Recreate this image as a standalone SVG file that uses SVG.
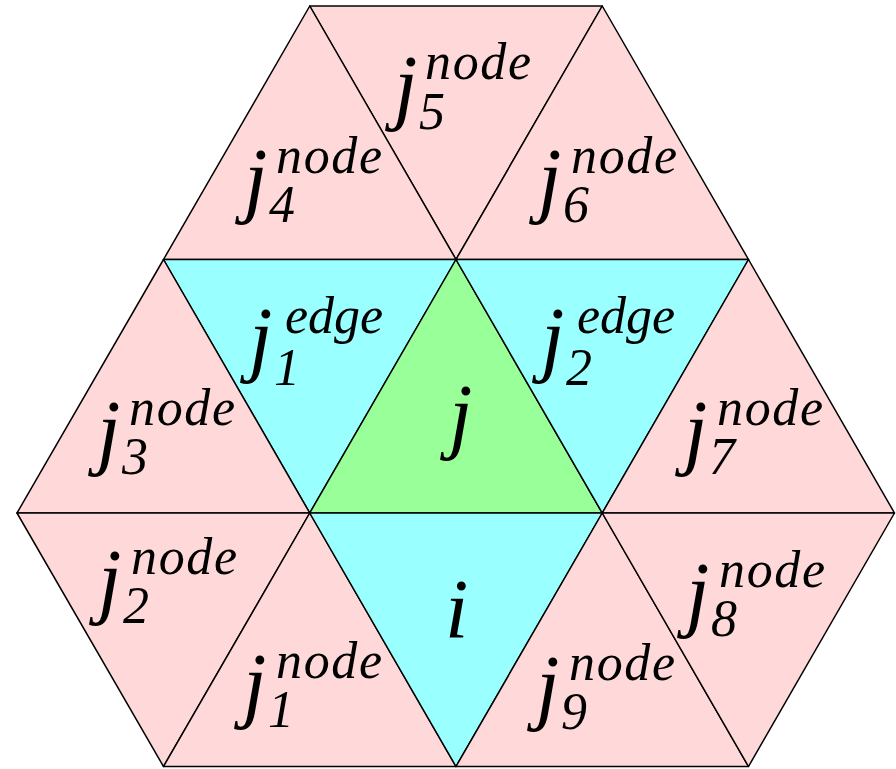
<svg xmlns="http://www.w3.org/2000/svg" width="896" height="769" viewBox="0 0 896 769">
<style>
.p{fill:#ffd9d9;stroke:#000;stroke-width:1.5;stroke-linejoin:round}
.c{fill:#99ffff;stroke:#000;stroke-width:1.5;stroke-linejoin:round}
.g{fill:#99ff99;stroke:#000;stroke-width:1.5;stroke-linejoin:round}
.m{font-family:"Liberation Serif",serif;font-style:italic;font-size:84px;fill:#000}
.s{font-family:"Liberation Serif",serif;font-style:italic;font-size:52px;fill:#000}
</style>
<rect width="896" height="769" fill="#fff"/>
<g id="t5"><polygon class="p" points="309.75,6 602.25,6 456,259.5"/>
<text class="m" x="394" y="114">j</text><text class="s" x="425" y="79" textLength="106" lengthAdjust="spacing">node</text><text class="s" x="419" y="129">5</text></g>
<g id="t4"><polygon class="p" points="309.75,6 163.5,259.5 456,259.5"/>
<text class="m" x="244" y="207">j</text><text class="s" x="276" y="173" textLength="106" lengthAdjust="spacing">node</text><text class="s" x="269" y="222">4</text></g>
<g id="t6"><polygon class="p" points="602.25,6 456,259.5 748.5,259.5"/>
<text class="m" x="538" y="207">j</text><text class="s" x="571" y="173" textLength="106" lengthAdjust="spacing">node</text><text class="s" x="563" y="222">6</text></g>
<g id="t1e"><polygon class="c" points="163.5,259.5 456,259.5 309.75,513"/>
<text class="m" x="249" y="366">j</text><text class="s" x="285" y="333" textLength="98" lengthAdjust="spacing">edge</text><text class="s" x="274" y="385">1</text></g>
<g id="tj"><polygon class="g" points="456,259.5 309.75,513 602.25,513"/>
<text class="m" x="449" y="443">j</text></g>
<g id="t2e"><polygon class="c" points="456,259.5 748.5,259.5 602.25,513"/>
<text class="m" x="541" y="366">j</text><text class="s" x="577" y="333" textLength="98" lengthAdjust="spacing">edge</text><text class="s" x="566" y="385">2</text></g>
<g id="t3"><polygon class="p" points="163.5,259.5 17,513 309.75,513"/>
<text class="m" x="97" y="459">j</text><text class="s" x="129" y="425" textLength="106" lengthAdjust="spacing">node</text><text class="s" x="122" y="474">3</text></g>
<g id="t7"><polygon class="p" points="748.5,259.5 602.25,513 894.5,513"/>
<text class="m" x="684" y="459">j</text><text class="s" x="717" y="425" textLength="106" lengthAdjust="spacing">node</text><text class="s" x="709" y="474">7</text></g>
<g id="t2n"><polygon class="p" points="17,513 309.75,513 163.5,766.5"/>
<text class="m" x="98" y="608">j</text><text class="s" x="131" y="574" textLength="106" lengthAdjust="spacing">node</text><text class="s" x="123" y="623">2</text></g>
<g id="t1n"><polygon class="p" points="309.75,513 163.5,766.5 456,766.5"/>
<text class="m" x="243" y="712">j</text><text class="s" x="276" y="678" textLength="106" lengthAdjust="spacing">node</text><text class="s" x="268" y="727">1</text></g>
<g id="ti"><polygon class="c" points="309.75,513 602.25,513 456,766.5"/>
<text class="m" x="445" y="638">i</text></g>
<g id="t9"><polygon class="p" points="602.25,513 456,766.5 748.5,766.5"/>
<text class="m" x="536" y="714">j</text><text class="s" x="569" y="680" textLength="106" lengthAdjust="spacing">node</text><text class="s" x="561" y="729">9</text></g>
<g id="t8"><polygon class="p" points="602.25,513 894.5,513 748.5,766.5"/>
<text class="m" x="686" y="621">j</text><text class="s" x="719" y="587" textLength="106" lengthAdjust="spacing">node</text><text class="s" x="711" y="636">8</text></g>
<g id="connectors"></g>
</svg>
